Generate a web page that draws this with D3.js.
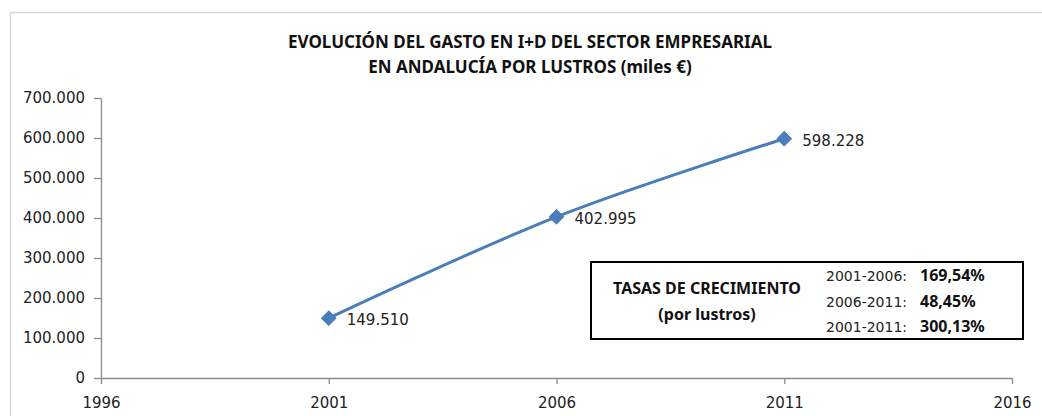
<!DOCTYPE html>
<html>
<head>
<meta charset="utf-8">
<script src="https://cdn.jsdelivr.net/npm/d3@7"></script>
<style>
  body { margin: 0; background: #fff; }
  text { font-family: "DejaVu Sans", sans-serif; fill: #222; }
  .bold { font-family: "Noto Sans", sans-serif; font-weight: bold; fill: #111; }
</style>
</head>
<body>
<div id="chart"></div>
<script>
// data
const years = [2001, 2006, 2011];
const gasto = [149510, 402995, 598228];
const yTicks = [0, 100000, 200000, 300000, 400000, 500000, 600000, 700000];
const xTicks = [1996, 2001, 2006, 2011, 2016];
const titleLines = ["EVOLUCIÓN DEL GASTO EN I+D DEL SECTOR EMPRESARIAL", "EN ANDALUCÍA POR LUSTROS (miles €)"];
const tasaPeriodos = ["2001-2006:", "2006-2011:", "2001-2011:"];
const tasaValores = ["169,54%", "48,45%", "300,13%"];

const W = 1042, H = 416;
const margin = { top: 98, right: 30, bottom: 38, left: 101 },
  width = 1012 - margin.left,
  height = 378 - margin.top;

const fmt = d3.format(",.0f");
const esNum = v => fmt(v).replace(/,/g, ".");

const root = d3.select("#chart").append("svg")
  .attr("width", W)
  .attr("height", H);

// outer chart frame (light grey)
root.append("rect")
  .attr("x", 10.5).attr("y", 12.5)
  .attr("width", W + 20).attr("height", H + 20)
  .attr("fill", "none")
  .attr("stroke", "#d9d9d9")
  .attr("stroke-width", 1.5);

// title
root.append("g").selectAll("text")
  .data(titleLines)
  .enter().append("text")
  .attr("class", "bold")
  .attr("x", 530)
  .attr("y", (d, i) => 48 + i * 25)
  .attr("text-anchor", "middle")
  .style("font-size", "17px")
  .text(d => d);

const svg = root.append("g")
  .attr("transform", `translate(${margin.left},${margin.top})`);

const x = d3.scaleLinear().domain([1996, 2016]).range([0, width]);
const y = d3.scaleLinear().domain([0, 700000]).range([height, 0]);

// axes
const xAxis = svg.append("g")
  .attr("transform", `translate(0,${height})`)
  .call(d3.axisBottom(x).tickValues(xTicks).tickFormat(d3.format("d")).tickSize(6).tickSizeOuter(0).tickPadding(13));
const yAxis = svg.append("g")
  .call(d3.axisLeft(y).tickValues(yTicks).tickFormat(esNum).tickSize(7).tickSizeOuter(0).tickPadding(9));

[xAxis, yAxis].forEach(a => {
  a.select(".domain").attr("stroke", "#8c8c8c").attr("stroke-width", 1.3);
  a.selectAll(".tick line").attr("stroke", "#8c8c8c").attr("stroke-width", 1.3);
  a.selectAll(".tick text")
    .style("font-family", "'DejaVu Sans', sans-serif")
    .style("font-size", "15px")
    .attr("fill", "#222");
});

// series line
const data = years.map((yr, i) => ({ year: yr, value: gasto[i] }));
const line = d3.line()
  .x(d => x(d.year))
  .y(d => y(d.value))
  .curve(d3.curveCatmullRom.alpha(0));

svg.append("path")
  .datum(data)
  .attr("fill", "none")
  .attr("stroke", "#4a7ebb")
  .attr("stroke-width", 3)
  .attr("d", line);

svg.selectAll(".marker")
  .data(data)
  .enter().append("path")
  .attr("class", "marker")
  .attr("transform", d => `translate(${x(d.year)},${y(d.value)})`)
  .attr("d", d3.symbol().type(d3.symbolDiamond2).size(140))
  .attr("fill", "#4a7ebb")
  .attr("stroke", "#4a7ebb")
  .attr("stroke-width", 1);

svg.selectAll(".label")
  .data(data)
  .enter().append("text")
  .attr("class", "label")
  .attr("x", d => x(d.year) + 18)
  .attr("y", d => y(d.value) + 7)
  .style("font-size", "15px")
  .text(d => esNum(d.value));

// growth rates box
const box = root.append("g").attr("transform", "translate(591,262)");
box.append("rect")
  .attr("width", 432).attr("height", 77)
  .attr("fill", "#fff")
  .attr("stroke", "#000")
  .attr("stroke-width", 2);

box.append("text")
  .attr("class", "bold")
  .attr("x", 116).attr("y", 32)
  .attr("text-anchor", "middle")
  .style("font-size", "16px")
  .text("TASAS DE CRECIMIENTO");
box.append("text")
  .attr("class", "bold")
  .attr("x", 116).attr("y", 58)
  .attr("text-anchor", "middle")
  .style("font-size", "16px")
  .text("(por lustros)");

box.selectAll(".periodo")
  .data(tasaPeriodos)
  .enter().append("text")
  .attr("class", "periodo")
  .attr("x", 235)
  .attr("y", (d, i) => 19 + i * 25.5)
  .style("font-size", "14px")
  .text(d => d);

box.selectAll(".valor")
  .data(tasaValores)
  .enter().append("text")
  .attr("class", "bold")
  .attr("x", 329)
  .attr("y", (d, i) => 19 + i * 25.5)
  .style("font-size", "16px")
  .text(d => d);
</script>
</body>
</html>
